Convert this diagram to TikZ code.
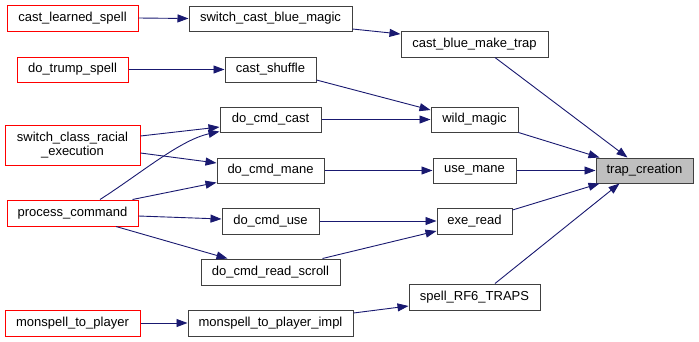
\documentclass[tikz,border=0pt]{standalone}
\usepackage{fontspec}
\setmainfont{Liberation Sans}
\usetikzlibrary{arrows.meta,calc}
\definecolor{edgeblue}{RGB}{25,25,112}
\definecolor{boxgray}{RGB}{64,64,64}
\definecolor{focusfill}{RGB}{191,191,191}
\begin{document}
\begin{tikzpicture}[x=1pt,y=-1pt,
  fn/.style={draw=boxgray,line width=1pt,fill=white,inner sep=0pt,
    minimum height=25pt,font=\fontsize{13}{15}\selectfont,align=center},
  trunc/.style={fn,draw=red},
  focus/.style={fn,fill=focusfill},
  call/.style={draw=edgeblue,line width=0.9pt,
    -{Triangle[length=11pt,width=8pt]}}]
\useasboundingbox (0,0) rectangle (699,341);
% callers of trap_creation, left column
\node[trunc,minimum width=131pt,minimum height=26pt] (cls)  at (72.5,18) {cast\_learned\_spell};
\node[trunc,minimum width=111pt] (dts)  at (72.5,69.5) {do\_trump\_spell};
\node[trunc,minimum width=135pt,minimum height=40pt] (scre) at (72.5,145) {switch\_class\_racial\\[-1pt]\_execution};
\node[trunc,minimum width=131pt,minimum height=26pt] (pc)   at (72.5,213) {process\_command};
\node[trunc,minimum width=135pt,minimum height=26pt] (mtp)  at (72.5,323) {monspell\_to\_player};
% middle column
\node[fn,minimum width=163pt] (scbm) at (270.5,18.5) {switch\_cast\_blue\_magic};
\node[fn,minimum width=91pt]  (cs)   at (270.5,69.5) {cast\_shuffle};
\node[fn,minimum width=101pt] (dcc)  at (270.5,119.5) {do\_cmd\_cast};
\node[fn,minimum width=107pt] (dcm)  at (270.5,170.5) {do\_cmd\_mane};
\node[fn,minimum width=97pt,minimum height=26pt]  (dcu)  at (270.5,221) {do\_cmd\_use};
\node[fn,minimum width=139pt,minimum height=26pt] (dcrs) at (270.5,272) {do\_cmd\_read\_scroll};
\node[fn,minimum width=165pt,minimum height=26pt] (mtpi) at (270.5,323) {monspell\_to\_player\_impl};
% direct callers
\node[fn,minimum width=147pt,minimum height=26pt] (cbmt) at (474.5,44) {cast\_blue\_make\_trap};
\node[fn,minimum width=87pt]  (wm)   at (474.5,119.5) {wild\_magic};
\node[fn,minimum width=83pt]  (um)   at (474.5,170.5) {use\_mane};
\node[fn,minimum width=75pt,minimum height=26pt]  (er)   at (474.5,221) {exe\_read};
\node[fn,minimum width=131pt,minimum height=26pt] (srt)  at (474.5,297) {spell\_RF6\_TRAPS};
% the function itself
\node[focus,minimum width=97pt] (tc) at (644.5,170.5) {trap\_creation};
% calls
\draw[call] (cls.east) -- (scbm.west);
\draw[call] ($(scbm.east)+(0,10.5)$) -- ($(cbmt.west)+(0,-10)$);
\draw[call] (dts.east) -- (cs.west);
\draw[call] ($(cs.east)+(0,10.5)$) -- ($(wm.west)+(0,-9.5)$);
\draw[call] (dcc.east) -- (wm.west);
\draw[call] ($(scre.east)+(0,-9)$) -- ($(dcc.west)+(0,7.5)$);
\draw[call] ($(scre.east)+(0,8)$) -- ($(dcm.west)+(0,-7.5)$);
\draw[call] ($(pc.north)+(27.5,0)$) .. controls (140,174) and (180,140) .. ($(dcc.south west)+(0,-1)$);
\draw[call] ($(pc.north east)+(-6,0)$) -- ($(dcm.south west)+(0,-1)$);
\draw[call] ($(pc.east)+(0,3)$) -- ($(dcu.west)+(0,-2)$);
\draw[call] ($(pc.south)+(43.5,0)$) -- ($(dcrs.north west)+(27,0)$);
\draw[call] (dcm.east) -- (um.west);
\draw[call] (dcu.east) -- (er.west);
\draw[call] ($(dcrs.north east)+(-18,0)$) -- ($(er.west)+(0,10)$);
\draw[call] (mtp.east) -- (mtpi.west);
\draw[call] ($(mtpi.east)+(0,-10)$) -- ($(srt.west)+(0,9)$);
\draw[call] ($(cbmt.south)+(20.5,0)$) -- ($(tc.north west)+(32,0)$);
\draw[call] (wm.south east) -- ($(tc.north west)+(4,0)$);
\draw[call] (um.east) -- (tc.west);
\draw[call] ($(er.east)+(0,-11)$) -- ($(tc.south west)+(4,0)$);
\draw[call] ($(srt.north)+(20.5,0)$) -- ($(tc.south west)+(24,0)$);
\end{tikzpicture}
\end{document}
